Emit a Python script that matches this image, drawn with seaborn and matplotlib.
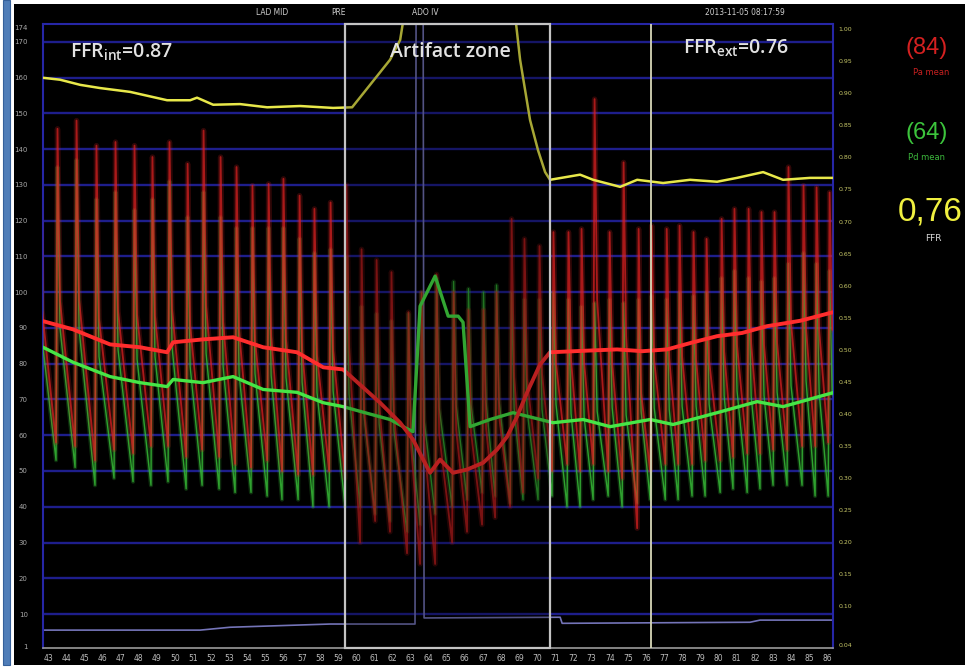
import pandas as pd
import matplotlib
import matplotlib.pyplot as plt
import seaborn as sns
from matplotlib.patches import Rectangle

sns.set_theme(style="dark")
matplotlib.rcParams['font.family'] = ["DejaVu Sans"]

# %% beat-by-beat readings (time in s, pressure in mmHg)
beatTimes = [42.45,
             43.44, 44.49, 45.59, 46.64, 47.69, 48.68, 49.62, 50.62, 51.50, 52.44,
             53.32, 54.20, 55.09, 55.91, 56.80, 57.62, 58.51, 59.39,
             60.22, 61.05, 61.87, 62.81, 63.53, 64.36, 65.30, 66.12, 66.95, 67.67,
             68.50, 69.21, 70.04, 70.81,
             71.64, 72.36, 73.08, 73.91, 74.68, 75.51, 76.23, 77.06, 77.77, 78.54,
             79.26, 80.09, 80.80, 81.58, 82.29, 83.01, 83.78, 84.61, 85.33, 86.05]
paSys = [140,
         145.7, 148.0, 141.0, 142.0, 141.0, 137.8, 142.0, 135.9, 145.2, 137.8,
         135.0, 129.8, 130.3, 131.7, 127.0, 123.3, 125.1, 130.0,
         112.0, 109.0, 105.6, 94.4, 100.0, 105.0, 100.0, 95.0, 95.0, 100.0,
         120.5, 114.9, 112.9, 116.8,
         116.8, 117.7, 154.0, 116.8, 136.3, 117.7, 118.6, 117.7, 118.6, 116.8,
         114.9, 120.5, 123.3, 123.3, 122.4, 122.4, 135.0, 129.8, 129.3, 127.9]
paDia = [58,
         58, 57, 53, 56, 55, 57, 57, 54, 56, 54,
         52, 51, 53, 50, 49, 49, 50, 48,
         30, 36, 33, 27, 24, 24, 30, 33, 35, 37,
         40, 44, 48, 50,
         52, 50, 52, 50, 48, 34, 50, 52, 52, 52,
         53, 53, 54, 55, 55, 56, 56, 57, 57, 58]
pdSys = [128,
         135, 137, 126, 128, 123, 126, 131, 121, 128, 121,
         118, 118, 118, 118, 115, 111, 112, 110,
         96, 94, 92, 94, 100, 104, 103, 101, 100, 102,
         100, 98, 98, 100,
         98, 96, 97, 98, 97, 98, 99, 98, 100, 99,
         100, 104, 106, 104, 103, 104, 108, 111, 108, 106]
pdDia = [53,
         53, 51, 46, 48, 47, 46, 47, 45, 46, 45,
         44, 44, 43, 42, 42, 40, 40, 40,
         40, 38, 36, 33, 35, 38, 40, 42, 44, 43,
         41, 42, 42, 43,
         40, 40, 42, 43, 40, 41, 42, 42, 42, 43,
         43, 44, 45, 44, 45, 46, 46, 46, 43, 43]

# mean pressure traces
paMeanTime = [42.72, 44.38, 46.42, 48.08, 49.57, 49.90, 51.55, 53.21, 54.87, 56.74,
              58.18, 59.28, 61.32, 62.43, 63.14, 63.70, 64.08, 64.63, 65.35, 66.12,
              67.01, 67.78, 68.33, 68.88, 69.43, 70.15, 70.70, 72.50, 74.40, 75.80,
              77.16, 78.60, 79.92, 81.30, 82.68, 84.50, 86.32]
paMean = [91.9, 89.6, 85.4, 84.6, 83.2, 86.0, 86.8, 87.4, 84.6, 83.2,
          79.0, 78.4, 69.1, 63.5, 58.8, 53.2, 49.5, 53.2, 49.5, 50.4,
          52.3, 56.0, 59.6, 65.2, 71.9, 79.8, 83.2, 83.6, 84.0, 83.5,
          84.0, 86.0, 87.7, 88.6, 90.5, 92.0, 94.4]
pdMeanTime = [42.72, 44.38, 46.42, 48.08, 49.57, 49.90, 51.55, 53.21, 54.87, 56.74,
              58.18, 59.28, 60.49, 61.87, 62.70, 63.14, 63.53, 64.36, 65.08, 65.63,
              65.90, 66.29, 67.39, 68.66, 69.77, 70.87, 72.53, 74.02, 76.23, 77.49,
              79.92, 82.13, 83.56, 86.32]
pdMean = [84.6, 80.4, 76.4, 74.7, 73.6, 75.6, 74.7, 76.4, 72.8, 72.0,
          69.1, 68.0, 66.3, 64.4, 62.1, 61.0, 96.1, 104.5, 93.3, 93.3,
          91.6, 62.4, 64.4, 66.3, 64.9, 63.5, 64.4, 62.4, 64.4, 63.0,
          66.3, 69.4, 68.0, 71.9]

# FFR (Pd/Pa) trace, right axis
ffrTime = [42.72, 43.66, 44.77, 45.87, 47.53, 49.57, 50.84, 51.22, 52.11, 53.60,
           55.09, 56.91, 58.73, 59.78, 60.77, 61.87, 62.43, 62.81,
           68.66, 69.05, 69.60, 70.04, 70.43, 70.70, 72.36, 73.08, 74.57, 75.51,
           76.94, 78.43, 79.92, 81.02, 82.46, 83.56, 85.05, 86.32]
ffrValue = [0.924, 0.921, 0.913, 0.908, 0.902, 0.889, 0.889, 0.893, 0.882, 0.883,
            0.878, 0.880, 0.877, 0.878, 0.913, 0.952, 0.983, 1.05,
            1.05, 0.952, 0.858, 0.811, 0.777, 0.765, 0.773, 0.765, 0.754, 0.765,
            0.760, 0.765, 0.762, 0.768, 0.777, 0.765, 0.768, 0.768]

# auxiliary low channel
auxTime = [42.72, 51.39, 53.04, 58.56, 63.25, 63.31, 63.70, 63.75, 71.26, 71.37,
           81.74, 82.29, 86.32]
auxValue = [5.5, 5.5, 6.3, 7.2, 7.2, 180, 180, 8.9, 9.1, 7.4, 7.7, 8.3, 8.3]

xTicks = list(range(43, 87))
leftTicks = [1, 10, 20, 30, 40, 50, 60, 70, 80, 90, 100, 110, 120, 130, 140, 150, 160, 170, 174]
gridLevels = [10, 20, 30, 40, 50, 60, 70, 80, 90, 100, 110, 120, 130, 140, 150, 160, 170]
rightTicks = [0.04, 0.10, 0.15, 0.20, 0.25, 0.30, 0.35, 0.40, 0.45, 0.50,
              0.55, 0.60, 0.65, 0.70, 0.75, 0.80, 0.85, 0.90, 0.95, 1.00]
rightTickLabels = ["0.04", "0.10", "0.15", "0.20", "0.25", "0.30", "0.35", "0.40", "0.45", "0.50",
                   "0.55", "0.60", "0.65", "0.70", "0.75", "0.80", "0.85", "0.90", "0.95", "1.00"]

artifactStart, artifactEnd = 59.39, 70.70
markerTime = 76.28


def beatWaveform(times, sysP, diaP):
    # trough -> systolic peak -> dicrotic level, then runs down into the next trough
    rows = []
    for t, s, d in zip(times, sysP, diaP):
        rows += [(t, d), (t + 0.08, s), (t + 0.22, d + 0.45 * (s - d))]
    return pd.DataFrame(rows, columns=["time", "pressure"])


def glowLine(df, ax, color, lw, alpha, z):
    # soft halo under a thin line, like the blurred monitor trace
    sns.lineplot(data=df, x="time", y="pressure", ax=ax, color=color, linewidth=lw * 3,
                 alpha=alpha * 0.3, zorder=z, estimator=None, sort=False)
    sns.lineplot(data=df, x="time", y="pressure", ax=ax, color=color, linewidth=lw,
                 alpha=alpha, zorder=z, estimator=None, sort=False)


# %% figure
fig = plt.figure(figsize=(9.65, 6.69), dpi=100, facecolor="white")
fig.patches.append(Rectangle((14 / 965, 4 / 669), 951 / 965, 661 / 669,
                             transform=fig.transFigure, facecolor="black", edgecolor="none", zorder=-10))
fig.patches.append(Rectangle((3 / 965, 4 / 669), 7 / 965, 665 / 669,
                             transform=fig.transFigure, facecolor="#4f7db8", edgecolor="#35609a",
                             lw=0.8, zorder=-10))

ax = fig.add_axes([0.04456, 0.0314, 0.8187, 0.9327])
ax.set_facecolor("black")
ax.grid(False)
ax.hlines(gridLevels, 42.72, 86.32, color="#1e1e8c", lw=1.7, zorder=1)

sns.lineplot(x=auxTime, y=auxValue, ax=ax, color="#7474b8", linewidth=1.2, zorder=2,
             estimator=None, sort=False)
glowLine(beatWaveform(beatTimes, pdSys, pdDia), ax, "#38c038", 1.0, 0.8, 3)
glowLine(beatWaveform(beatTimes, paSys, paDia), ax, "#e02222", 1.3, 0.7, 4)
sns.lineplot(x=pdMeanTime, y=pdMean, ax=ax, color="#46e646", linewidth=2.4, zorder=5,
             estimator=None, sort=False)
sns.lineplot(x=paMeanTime, y=paMean, ax=ax, color="#ff2d2d", linewidth=2.8, zorder=6,
             estimator=None, sort=False)

ax.set_xlim(42.72, 86.32)
ax.set_ylim(0.5, 175)
ax.set_xticks(xTicks)
ax.set_yticks(leftTicks)
ax.set_xlabel("")
ax.set_ylabel("")
ax.tick_params(axis="x", colors="#bdbdbd", labelsize=5.5, length=3, width=0.8,
               direction="in", pad=4)
ax.tick_params(axis="y", colors="#a8a8a8", labelsize=5, length=0, pad=11)
for side in ["left", "right", "top"]:
    ax.spines[side].set_color("#2626a6")
    ax.spines[side].set_linewidth(1.5)
ax.spines["bottom"].set_color("#9a9a9a")
ax.spines["bottom"].set_linewidth(1.2)

# FFR on the right axis
ax2 = ax.twinx()
sns.lineplot(x=ffrTime, y=ffrValue, ax=ax2, color="#e8e84a", linewidth=1.8, zorder=3,
             estimator=None, sort=False)
ax2.set_ylim(0.0353, 1.0078)
ax2.set_yticks(rightTicks)
ax2.set_yticklabels(rightTickLabels)
ax2.set_ylabel("")
ax2.grid(False)
ax2.tick_params(axis="y", colors="#c8c868", labelsize=4.5, length=0, pad=4)
for side in ["left", "right", "top", "bottom"]:
    ax2.spines[side].set_visible(False)

# artifact zone: dimmed, boxed
ax2.add_patch(Rectangle((artifactStart, 0), artifactEnd - artifactStart, 1,
                        transform=ax2.get_xaxis_transform(), facecolor="black",
                        alpha=0.28, edgecolor="none", zorder=5))
ax2.add_patch(Rectangle((artifactStart, 0), artifactEnd - artifactStart, 1,
                        transform=ax2.get_xaxis_transform(), facecolor="none",
                        edgecolor="#c4c4c4", lw=1.6, zorder=6, clip_on=False))
ax2.axvline(markerTime, color="#d8d8b8", lw=1.3, zorder=6)

# annotations
fig.text(0.0725, 0.9223, r"FFR$_\mathregular{int}$=0.87", color="#e2e2e2", fontsize=14,
         family="Open Sans", weight="semibold", ha="left", va="center")
fig.text(0.4663, 0.9223, "Artifact zone", color="#e2e2e2", fontsize=14,
         family="Open Sans", weight="semibold", ha="center", va="center")
fig.text(0.7078, 0.9283, r"FFR$_\mathregular{ext}$=0.76", color="#e2e2e2", fontsize=14,
         family="Open Sans", weight="semibold", ha="left", va="center")

header = {"LAD MID": 0.2818, "PRE": 0.3503, "ADO IV": 0.4404, "2013-11-05 08:17:59": 0.772}
for label, xpos in header.items():
    fig.text(xpos, 0.9806, label, color="#cfcfcf", fontsize=6, ha="center", va="center",
             fontstretch="condensed")

fig.text(0.9606, 0.9283, "(84)", color="#d42020", fontsize=17, ha="center", va="center",
         family="Liberation Sans")
fig.text(0.9650, 0.891, "Pa mean", color="#c82020", fontsize=6, ha="center", va="center")
fig.text(0.9606, 0.8012, "(64)", color="#3cc43c", fontsize=17, ha="center", va="center",
         family="Liberation Sans")
fig.text(0.9606, 0.7653, "Pd mean", color="#3cb83c", fontsize=6, ha="center", va="center")
fig.text(0.9637, 0.6831, "0,76", color="#f0f040", fontsize=24, ha="center", va="center",
         family="Liberation Sans")
fig.text(0.9668, 0.6428, "FFR", color="#d8d8d8", fontsize=6.5, ha="center", va="center")

plt.savefig("out.png", dpi=100, facecolor="white")
